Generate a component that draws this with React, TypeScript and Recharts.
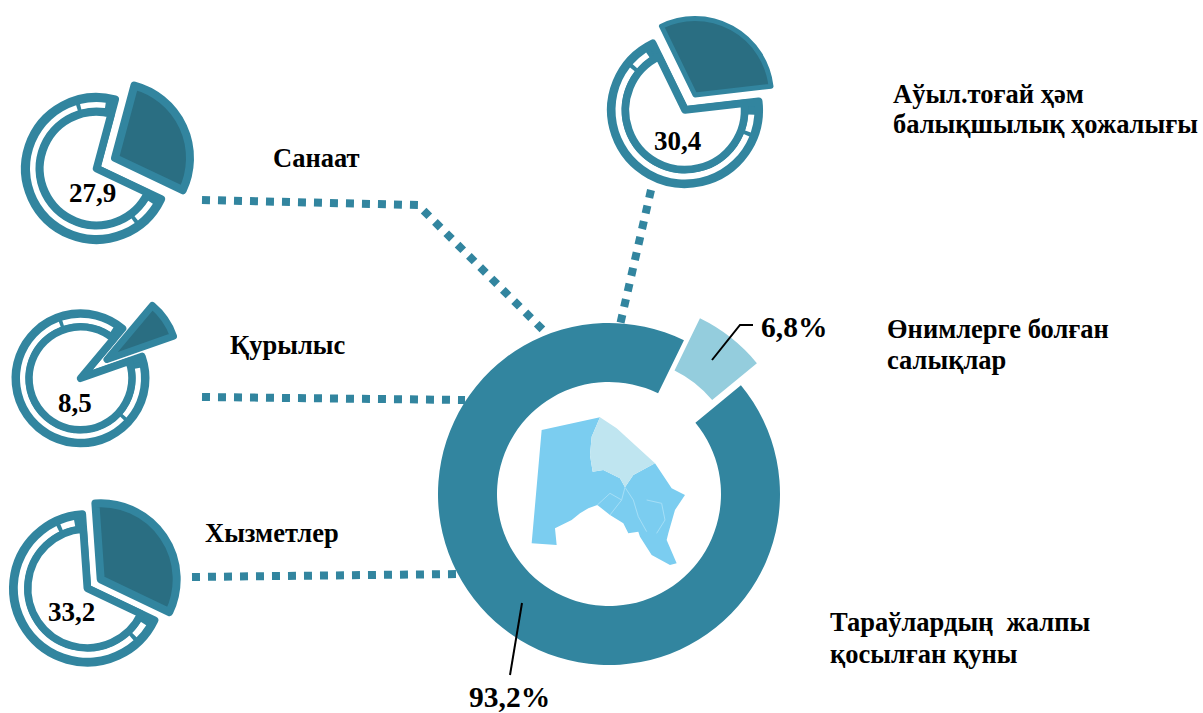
import { Cell, Pie, PieChart } from "recharts";

const TEAL = "#32859f";
const DARK = "#2a6e82";
const LIGHT = "#94cddd";
const SERIF = "'Liberation Serif', 'Times New Roman', serif";

// main donut
const totalLabels = ["Тараўлардың жалпы қосылған қуны", "Өнимлерге болған салықлар"];
const totalValues = [93.2, 6.8];

// branches
const branchLabels = ["Санаат", "Аўыл.тоғай ҳәм балықшылық ҳожалығы", "Қурылыс", "Хызметлер"];
const branchValues = [27.9, 30.4, 8.5, 33.2];
const branchValueText = ["27,9", "30,4", "8,5", "33,2"];

// arcs of the white groove in each icon, in degrees
const grooveArcs = [
  [23, 203, 20],
  [15, 198, 15],
  [51, 207, 51],
  [12, 198, 13],
];

const icons = [
  { cx: 96.5, cy: 168.5, r: 75.5, r2: 66.5, r3: 61, r4: 53, start: 75, grooveFrom: 82, grooveTo: 328, wx: 115, wy: 158, wr: 79, ws: 8 },
  { cx: 685, cy: 110, r: 78, r2: 69.5, r3: 63.5, r4: 56, start: 116, grooveFrom: 124, grooveTo: 356, wx: 695, wy: 95, wr: 79, ws: 5 },
  { cx: 80.5, cy: 378.3, r: 69, r2: 60.5, r3: 55, r4: 48, start: 50, grooveFrom: 57, grooveTo: 370, wx: 107, wy: 359.5, wr: 74, ws: 7 },
  { cx: 87.3, cy: 588.3, r: 78.3, r2: 69.5, r3: 63, r4: 56, start: 94, grooveFrom: 101, grooveTo: 328, wx: 100.7, wy: 579.3, wr: 80, ws: 8 },
];

const valueTextPos = [
  [69, 202],
  [654, 150],
  [58, 412],
  [48, 621],
];

const dotted = [
  "M202 200 L418 205 L545 332",
  "M202 397 L465 400",
  "M192 577 L460 574",
  "M651 190 L620 325",
];

const captions = [
  { x: 273, y: 167, lines: ["Санаат"], gap: 0 },
  { x: 230, y: 354, lines: ["Қурылыс"], gap: 0 },
  { x: 205, y: 542, lines: ["Хызметлер"], gap: 0 },
  { x: 893, y: 103, lines: ["Аўыл.тоғай ҳәм", "балықшылық ҳожалығы"], gap: 30 },
  { x: 887, y: 338, lines: ["Өнимлерге болған", "салықлар"], gap: 31 },
  { x: 830, y: 631, lines: ["Тараўлардың  жалпы", "қосылған қуны"], gap: 32 },
];

function branchPies(i: number) {
  const ic = icons[i];
  const value = branchValues[i];
  const data = [
    { name: "Басқа", value: 100 - value },
    { name: branchLabels[i], value },
  ];
  const angles = { startAngle: ic.start, endAngle: ic.start + 360 };
  const round = { strokeLinejoin: "round" as const, isAnimationActive: false, dataKey: "value" };
  return [
    <Pie key={`outer${i}`} data={data} cx={ic.cx} cy={ic.cy} innerRadius={0} outerRadius={ic.r - 4} {...angles} {...round}>
      <Cell fill={TEAL} stroke={TEAL} strokeWidth={8} />
      <Cell fill="transparent" stroke="none" />
    </Pie>,
    <Pie
      key={`groove${i}`}
      data={grooveArcs[i].map((value) => ({ value }))}
      cx={ic.cx}
      cy={ic.cy}
      innerRadius={ic.r3}
      outerRadius={ic.r2}
      startAngle={ic.grooveFrom}
      endAngle={ic.grooveTo}
      paddingAngle={3.5}
      dataKey="value"
      fill="#fff"
      stroke="none"
      isAnimationActive={false}
    />,
    <Pie key={`inner${i}`} data={data} cx={ic.cx} cy={ic.cy} innerRadius={0} outerRadius={ic.r4 + 3.5} {...angles} {...round}>
      <Cell fill="#fff" stroke={TEAL} strokeWidth={7.5} />
      <Cell fill="transparent" stroke="none" />
    </Pie>,
    <Pie key={`wedge${i}`} data={data} cx={ic.wx} cy={ic.wy} innerRadius={0} outerRadius={ic.wr - ic.ws / 2} {...angles} {...round}>
      <Cell fill="transparent" stroke="none" />
      <Cell fill={DARK} stroke={TEAL} strokeWidth={ic.ws} />
    </Pie>,
  ];
}

const totalData = totalValues.map((value, i) => ({ name: totalLabels[i], value }));

export default function App() {
  return (
    <div style={{ position: "absolute", left: 0, top: 0, width: 1203, height: 713, overflow: "hidden", background: "#fff" }}>
      <PieChart width={1203} height={713} margin={{ top: 0, right: 0, bottom: 0, left: 0 }}>
        {branchValues.map((_, i) => branchPies(i))}
        <Pie data={totalData} dataKey="value" cx={609} cy={494} innerRadius={112} outerRadius={171} startAngle={64} endAngle={424} isAnimationActive={false}>
          <Cell fill={TEAL} stroke="none" />
          <Cell fill="transparent" stroke="none" />
        </Pie>
        <Pie data={totalData} dataKey="value" cx={625} cy={472} innerRadius={113} outerRadius={171} startAngle={64} endAngle={424} isAnimationActive={false}>
          <Cell fill="transparent" stroke="none" />
          <Cell fill={LIGHT} stroke="none" />
        </Pie>
      </PieChart>
      <svg width={1203} height={713} style={{ position: "absolute", left: 0, top: 0 }} fontFamily={SERIF} fontWeight="bold" fill="#000">
        {dotted.map((d) => (
          <path key={d} d={d} fill="none" stroke={TEAL} strokeWidth={8} strokeDasharray="8 8" />
        ))}
        <g transform="translate(510 400) scale(0.3333)">
          <path
            fill="#7bcdf0"
            d="M95 90 L270 52 L245 110 L240 165 L248 215 L280 210 L330 235 L345 262 L370 225 L435 190 L485 265 L525 285 L495 330 L475 400 L470 420 L500 490 L480 495 L425 465 L390 410 L385 395 L355 400 L340 370 L300 345 L262 315 L235 325 L210 340 L185 360 L135 385 L140 435 L65 430 Z"
          />
          <path
            fill="#bfe5f0"
            d="M270 52 L320 85 L435 190 L370 225 L345 262 L330 235 L280 210 L248 215 L240 165 L245 110 Z"
          />
          <path
            fill="none"
            stroke="#a5def6"
            strokeWidth={3}
            d="M345 262 L335 300 L300 345 M345 262 L370 300 L385 350 L410 395 M410 300 L455 310 L465 360 L440 400 M262 315 L300 280 L335 300"
          />
        </g>
        <path d="M522 603 L510 675" fill="none" stroke="#000" strokeWidth={2} />
        <path d="M712 360 L740 325 L753 325" fill="none" stroke="#000" strokeWidth={2} />
        {branchValueText.map((t, i) => (
          <text key={t} x={valueTextPos[i][0]} y={valueTextPos[i][1]} fontSize={27}>
            {t}
          </text>
        ))}
        <text x={761} y={337} fontSize={29.5}>6,8%</text>
        <text x={469} y={707} fontSize={29.5}>93,2%</text>
        {captions.map((c) =>
          c.lines.map((line, j) => (
            <text key={line} x={c.x} y={c.y + j * c.gap} fontSize={26.5} xmlSpace="preserve">
              {line}
            </text>
          )),
        )}
      </svg>
    </div>
  );
}
